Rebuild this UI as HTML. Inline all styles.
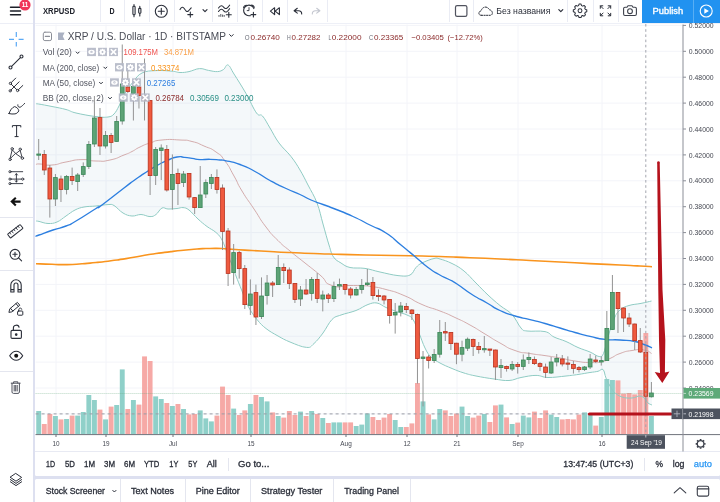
<!DOCTYPE html>
<html lang="en">
<head>
<meta charset="utf-8">
<title>XRPUSD chart</title>
<style>
*{box-sizing:border-box;margin:0;padding:0}
html,body{width:720px;height:502px;overflow:hidden}
body{background:#dde0f0;font-family:"Liberation Sans",sans-serif;color:#2a2e39;position:relative}
.panel{position:absolute;background:#fff}
.t{position:absolute;white-space:nowrap;line-height:1}
.tb{font-size:8.6px;color:#2a2e39;font-weight:bold;letter-spacing:.1px}
.sep{position:absolute;width:1px;background:#eaecf4;top:0;height:22px}
svg{position:absolute;left:0;top:0;overflow:visible}
.ax{font-family:"Liberation Sans",sans-serif;font-size:7.6px;fill:#454852}
.axw{font-family:"Liberation Sans",sans-serif;font-size:7.6px;fill:#fff}
.lg{font-size:8.2px;color:#50535e}
.val{font-size:8.2px}
.btns{position:absolute;height:8.6px}
.btns i{position:absolute;top:0;width:8.8px;height:8.6px;background:#b9bcc6;border:.8px solid #fff;opacity:.92}
.rng{font-size:8.8px;color:#2a2e39}
.tab{font-size:8.9px;color:#2a2e39;letter-spacing:.15px}
</style>
</head>
<body>
<!-- panels -->
<div class="panel" style="left:0;top:0;width:32.8px;height:502px"></div>
<div class="panel" style="left:35.2px;top:0;width:684.8px;height:476.2px;border-radius:0 0 1.5px 1.5px"></div>
<div class="panel" style="left:35.2px;top:478.5px;width:684.8px;height:23.5px;border-radius:1.5px 1.5px 0 0"></div>
<div style="position:absolute;left:0;top:22.8px;width:32.8px;height:1px;background:#eceef6"></div>
<div style="position:absolute;left:35.2px;top:22.9px;width:684.8px;height:1.1px;background:#eef0f7"></div>
<!-- thin dividers -->
<div style="position:absolute;left:35.2px;top:451.3px;width:684.8px;height:1px;background:#e8eaf3"></div>
<div style="position:absolute;left:0;top:216.5px;width:33px;height:1px;background:#e4e6ef"></div>
<div style="position:absolute;left:0;top:269.5px;width:33px;height:1px;background:#e4e6ef"></div>
<div style="position:absolute;left:0;top:371px;width:33px;height:1px;background:#e4e6ef"></div>

<!-- chart svg -->
<svg width="720" height="502" viewBox="0 0 720 502" style="will-change:transform">
<line x1="35.6" x2="683" y1="25.4" y2="25.4" stroke="#f3f4f9" stroke-width="1"/>
<line x1="35.6" x2="683" y1="51.3" y2="51.3" stroke="#f3f4f9" stroke-width="1"/>
<line x1="35.6" x2="683" y1="77.2" y2="77.2" stroke="#f3f4f9" stroke-width="1"/>
<line x1="35.6" x2="683" y1="103.1" y2="103.1" stroke="#f3f4f9" stroke-width="1"/>
<line x1="35.6" x2="683" y1="129.0" y2="129.0" stroke="#f3f4f9" stroke-width="1"/>
<line x1="35.6" x2="683" y1="154.9" y2="154.9" stroke="#f3f4f9" stroke-width="1"/>
<line x1="35.6" x2="683" y1="180.8" y2="180.8" stroke="#f3f4f9" stroke-width="1"/>
<line x1="35.6" x2="683" y1="206.7" y2="206.7" stroke="#f3f4f9" stroke-width="1"/>
<line x1="35.6" x2="683" y1="232.6" y2="232.6" stroke="#f3f4f9" stroke-width="1"/>
<line x1="35.6" x2="683" y1="258.5" y2="258.5" stroke="#f3f4f9" stroke-width="1"/>
<line x1="35.6" x2="683" y1="284.4" y2="284.4" stroke="#f3f4f9" stroke-width="1"/>
<line x1="35.6" x2="683" y1="310.3" y2="310.3" stroke="#f3f4f9" stroke-width="1"/>
<line x1="35.6" x2="683" y1="336.2" y2="336.2" stroke="#f3f4f9" stroke-width="1"/>
<line x1="35.6" x2="683" y1="362.1" y2="362.1" stroke="#f3f4f9" stroke-width="1"/>
<line x1="35.6" x2="683" y1="388.0" y2="388.0" stroke="#f3f4f9" stroke-width="1"/>
<line x1="35.6" x2="683" y1="413.9" y2="413.9" stroke="#f3f4f9" stroke-width="1"/>
<line x1="56" x2="56" y1="24.5" y2="434" stroke="#f3f4f9" stroke-width="1"/>
<line x1="106" x2="106" y1="24.5" y2="434" stroke="#f3f4f9" stroke-width="1"/>
<line x1="173" x2="173" y1="24.5" y2="434" stroke="#f3f4f9" stroke-width="1"/>
<line x1="251" x2="251" y1="24.5" y2="434" stroke="#f3f4f9" stroke-width="1"/>
<line x1="346" x2="346" y1="24.5" y2="434" stroke="#f3f4f9" stroke-width="1"/>
<line x1="407" x2="407" y1="24.5" y2="434" stroke="#f3f4f9" stroke-width="1"/>
<line x1="457" x2="457" y1="24.5" y2="434" stroke="#f3f4f9" stroke-width="1"/>
<line x1="518" x2="518" y1="24.5" y2="434" stroke="#f3f4f9" stroke-width="1"/>
<line x1="602" x2="602" y1="24.5" y2="434" stroke="#f3f4f9" stroke-width="1"/>
<polygon points="36.0,104.0 38.5,104.0 52.0,106.5 66.0,109.5 76.0,113.0 96.0,116.6 108.0,117.0 114.0,114.0 119.0,106.0 124.0,95.0 133.0,82.0 142.0,73.0 156.0,70.6 172.0,71.2 180.0,72.5 189.0,71.6 199.5,68.6 208.5,70.4 217.5,71.6 223.5,69.5 228.0,65.0 234.0,74.0 246.0,93.5 256.5,113.0 262.5,116.0 270.0,128.0 279.0,143.0 291.0,156.5 300.0,170.0 308.0,185.0 317.0,203.0 323.0,224.0 329.0,245.0 333.5,257.0 341.0,263.0 350.0,267.5 365.0,268.4 380.0,272.0 398.0,275.6 410.0,275.0 416.0,267.5 422.0,263.0 434.0,258.5 440.0,259.0 452.0,263.5 464.0,271.0 476.0,283.0 488.0,295.0 500.0,305.5 512.0,314.5 521.0,328.0 527.0,331.0 545.0,331.6 554.0,337.0 566.0,341.5 578.0,347.5 590.0,352.0 599.0,356.5 603.5,353.5 608.0,337.0 614.0,319.0 620.0,310.0 629.0,305.5 641.0,303.4 651.5,301.0 652.0,405.0 648.0,403.0 645.0,399.0 640.0,396.0 632.0,398.0 622.0,397.0 614.0,392.0 610.0,386.0 606.0,378.0 603.0,369.5 598.0,371.3 590.0,372.5 578.0,374.5 566.0,376.0 548.0,377.5 536.0,375.4 521.0,377.5 509.0,380.5 494.0,379.0 476.0,376.0 464.0,373.0 452.0,368.5 440.0,363.0 431.0,357.0 425.0,348.0 419.0,333.0 413.0,319.5 407.0,315.0 398.0,312.0 386.0,307.5 377.0,303.0 368.0,304.5 356.0,310.5 341.0,315.0 332.0,319.5 323.0,333.0 314.0,343.5 306.5,347.4 290.0,342.0 278.0,336.0 266.0,328.5 257.0,319.5 248.0,306.0 242.0,291.0 236.0,276.0 234.0,270.0 228.0,255.0 222.0,240.0 216.0,232.5 207.0,226.5 198.0,219.0 189.0,210.0 183.0,207.6 177.0,208.5 168.0,209.0 162.0,208.0 156.0,214.5 150.0,216.6 141.0,214.5 132.0,216.0 123.0,213.0 114.0,205.5 108.0,204.6 96.0,206.0 84.0,207.0 75.0,210.0 66.0,216.0 57.0,222.0 48.0,223.5 39.0,221.4 36.0,221.0" fill="#297e9b" fill-opacity="0.05"/>
<rect x="36.25" y="411.0" width="4.9" height="23.2" fill="#8fd0c9"/>
<rect x="41.82" y="424.0" width="4.9" height="10.2" fill="#f6a9a6"/>
<rect x="47.39" y="414.0" width="4.9" height="20.2" fill="#f6a9a6"/>
<rect x="52.96" y="416.0" width="4.9" height="18.2" fill="#8fd0c9"/>
<rect x="58.53" y="419.4" width="4.9" height="14.8" fill="#f6a9a6"/>
<rect x="64.10" y="419.0" width="4.9" height="15.2" fill="#8fd0c9"/>
<rect x="69.67" y="415.6" width="4.9" height="18.6" fill="#f6a9a6"/>
<rect x="75.24" y="415.6" width="4.9" height="18.6" fill="#8fd0c9"/>
<rect x="80.81" y="412.0" width="4.9" height="22.2" fill="#8fd0c9"/>
<rect x="86.38" y="395.0" width="4.9" height="39.2" fill="#8fd0c9"/>
<rect x="91.95" y="400.0" width="4.9" height="34.2" fill="#8fd0c9"/>
<rect x="97.52" y="409.6" width="4.9" height="24.6" fill="#f6a9a6"/>
<rect x="103.09" y="419.4" width="4.9" height="14.8" fill="#8fd0c9"/>
<rect x="108.66" y="406.6" width="4.9" height="27.6" fill="#f6a9a6"/>
<rect x="114.23" y="405.0" width="4.9" height="29.2" fill="#8fd0c9"/>
<rect x="119.80" y="369.4" width="4.9" height="64.8" fill="#8fd0c9"/>
<rect x="125.37" y="409.0" width="4.9" height="25.2" fill="#f6a9a6"/>
<rect x="130.94" y="400.0" width="4.9" height="34.2" fill="#8fd0c9"/>
<rect x="136.51" y="404.6" width="4.9" height="29.6" fill="#f6a9a6"/>
<rect x="142.08" y="356.4" width="4.9" height="77.8" fill="#f6a9a6"/>
<rect x="147.65" y="361.0" width="4.9" height="73.2" fill="#f6a9a6"/>
<rect x="153.22" y="396.4" width="4.9" height="37.8" fill="#8fd0c9"/>
<rect x="158.79" y="399.0" width="4.9" height="35.2" fill="#8fd0c9"/>
<rect x="164.36" y="403.0" width="4.9" height="31.2" fill="#f6a9a6"/>
<rect x="169.93" y="406.0" width="4.9" height="28.2" fill="#8fd0c9"/>
<rect x="175.50" y="404.0" width="4.9" height="30.2" fill="#f6a9a6"/>
<rect x="181.07" y="409.0" width="4.9" height="25.2" fill="#8fd0c9"/>
<rect x="186.64" y="414.4" width="4.9" height="19.8" fill="#f6a9a6"/>
<rect x="192.21" y="414.0" width="4.9" height="20.2" fill="#f6a9a6"/>
<rect x="197.78" y="410.4" width="4.9" height="23.8" fill="#8fd0c9"/>
<rect x="203.35" y="418.4" width="4.9" height="15.8" fill="#8fd0c9"/>
<rect x="208.92" y="421.4" width="4.9" height="12.8" fill="#8fd0c9"/>
<rect x="214.49" y="415.6" width="4.9" height="18.6" fill="#f6a9a6"/>
<rect x="220.06" y="386.6" width="4.9" height="47.6" fill="#f6a9a6"/>
<rect x="225.63" y="395.0" width="4.9" height="39.2" fill="#f6a9a6"/>
<rect x="231.20" y="408.6" width="4.9" height="25.6" fill="#8fd0c9"/>
<rect x="236.77" y="415.0" width="4.9" height="19.2" fill="#f6a9a6"/>
<rect x="242.34" y="410.4" width="4.9" height="23.8" fill="#f6a9a6"/>
<rect x="247.91" y="404.0" width="4.9" height="30.2" fill="#8fd0c9"/>
<rect x="253.48" y="395.0" width="4.9" height="39.2" fill="#f6a9a6"/>
<rect x="259.05" y="397.0" width="4.9" height="37.2" fill="#8fd0c9"/>
<rect x="264.62" y="401.4" width="4.9" height="32.8" fill="#8fd0c9"/>
<rect x="270.19" y="412.4" width="4.9" height="21.8" fill="#f6a9a6"/>
<rect x="275.76" y="416.0" width="4.9" height="18.2" fill="#8fd0c9"/>
<rect x="281.33" y="417.6" width="4.9" height="16.6" fill="#f6a9a6"/>
<rect x="286.90" y="411.0" width="4.9" height="23.2" fill="#f6a9a6"/>
<rect x="292.47" y="415.0" width="4.9" height="19.2" fill="#f6a9a6"/>
<rect x="298.04" y="411.6" width="4.9" height="22.6" fill="#8fd0c9"/>
<rect x="303.61" y="416.0" width="4.9" height="18.2" fill="#f6a9a6"/>
<rect x="309.18" y="411.0" width="4.9" height="23.2" fill="#8fd0c9"/>
<rect x="314.75" y="414.0" width="4.9" height="20.2" fill="#f6a9a6"/>
<rect x="320.32" y="418.0" width="4.9" height="16.2" fill="#8fd0c9"/>
<rect x="325.89" y="423.0" width="4.9" height="11.2" fill="#f6a9a6"/>
<rect x="331.46" y="422.4" width="4.9" height="11.8" fill="#8fd0c9"/>
<rect x="337.03" y="422.4" width="4.9" height="11.8" fill="#8fd0c9"/>
<rect x="342.60" y="422.4" width="4.9" height="11.8" fill="#f6a9a6"/>
<rect x="348.17" y="422.4" width="4.9" height="11.8" fill="#f6a9a6"/>
<rect x="353.74" y="426.0" width="4.9" height="8.2" fill="#8fd0c9"/>
<rect x="359.31" y="424.6" width="4.9" height="9.6" fill="#8fd0c9"/>
<rect x="364.88" y="413.4" width="4.9" height="20.8" fill="#8fd0c9"/>
<rect x="370.45" y="417.0" width="4.9" height="17.2" fill="#f6a9a6"/>
<rect x="376.02" y="420.0" width="4.9" height="14.2" fill="#f6a9a6"/>
<rect x="381.59" y="417.6" width="4.9" height="16.6" fill="#f6a9a6"/>
<rect x="387.16" y="414.0" width="4.9" height="20.2" fill="#f6a9a6"/>
<rect x="392.73" y="420.0" width="4.9" height="14.2" fill="#8fd0c9"/>
<rect x="398.30" y="427.0" width="4.9" height="7.2" fill="#8fd0c9"/>
<rect x="403.87" y="427.0" width="4.9" height="7.2" fill="#f6a9a6"/>
<rect x="409.44" y="423.4" width="4.9" height="10.8" fill="#f6a9a6"/>
<rect x="415.01" y="383.0" width="4.9" height="51.2" fill="#f6a9a6"/>
<rect x="420.58" y="401.4" width="4.9" height="32.8" fill="#8fd0c9"/>
<rect x="426.15" y="414.4" width="4.9" height="19.8" fill="#f6a9a6"/>
<rect x="431.72" y="419.4" width="4.9" height="14.8" fill="#8fd0c9"/>
<rect x="437.29" y="409.0" width="4.9" height="25.2" fill="#8fd0c9"/>
<rect x="442.86" y="410.4" width="4.9" height="23.8" fill="#f6a9a6"/>
<rect x="448.43" y="416.0" width="4.9" height="18.2" fill="#f6a9a6"/>
<rect x="454.00" y="413.6" width="4.9" height="20.6" fill="#f6a9a6"/>
<rect x="459.57" y="406.6" width="4.9" height="27.6" fill="#8fd0c9"/>
<rect x="465.14" y="416.0" width="4.9" height="18.2" fill="#8fd0c9"/>
<rect x="470.71" y="417.6" width="4.9" height="16.6" fill="#f6a9a6"/>
<rect x="476.28" y="415.6" width="4.9" height="18.6" fill="#f6a9a6"/>
<rect x="481.85" y="414.0" width="4.9" height="20.2" fill="#8fd0c9"/>
<rect x="487.42" y="422.0" width="4.9" height="12.2" fill="#f6a9a6"/>
<rect x="492.99" y="405.4" width="4.9" height="28.8" fill="#f6a9a6"/>
<rect x="498.56" y="404.6" width="4.9" height="29.6" fill="#8fd0c9"/>
<rect x="504.13" y="417.4" width="4.9" height="16.8" fill="#f6a9a6"/>
<rect x="509.70" y="424.0" width="4.9" height="10.2" fill="#8fd0c9"/>
<rect x="515.27" y="422.6" width="4.9" height="11.6" fill="#f6a9a6"/>
<rect x="520.84" y="415.6" width="4.9" height="18.6" fill="#8fd0c9"/>
<rect x="526.41" y="417.4" width="4.9" height="16.8" fill="#8fd0c9"/>
<rect x="531.98" y="411.6" width="4.9" height="22.6" fill="#f6a9a6"/>
<rect x="537.55" y="418.0" width="4.9" height="16.2" fill="#f6a9a6"/>
<rect x="543.12" y="410.4" width="4.9" height="23.8" fill="#f6a9a6"/>
<rect x="548.69" y="414.6" width="4.9" height="19.6" fill="#8fd0c9"/>
<rect x="554.26" y="417.0" width="4.9" height="17.2" fill="#8fd0c9"/>
<rect x="559.83" y="419.4" width="4.9" height="14.8" fill="#f6a9a6"/>
<rect x="565.40" y="419.0" width="4.9" height="15.2" fill="#f6a9a6"/>
<rect x="570.97" y="419.4" width="4.9" height="14.8" fill="#f6a9a6"/>
<rect x="576.54" y="414.6" width="4.9" height="19.6" fill="#f6a9a6"/>
<rect x="582.11" y="412.4" width="4.9" height="21.8" fill="#8fd0c9"/>
<rect x="587.68" y="413.6" width="4.9" height="20.6" fill="#8fd0c9"/>
<rect x="593.25" y="425.6" width="4.9" height="8.6" fill="#f6a9a6"/>
<rect x="598.82" y="417.0" width="4.9" height="17.2" fill="#8fd0c9"/>
<rect x="604.39" y="379.0" width="4.9" height="55.2" fill="#8fd0c9"/>
<rect x="609.96" y="380.0" width="4.9" height="54.2" fill="#8fd0c9"/>
<rect x="615.53" y="380.4" width="4.9" height="53.8" fill="#f6a9a6"/>
<rect x="621.10" y="393.6" width="4.9" height="40.6" fill="#f6a9a6"/>
<rect x="626.67" y="393.0" width="4.9" height="41.2" fill="#f6a9a6"/>
<rect x="632.24" y="394.4" width="4.9" height="39.8" fill="#f6a9a6"/>
<rect x="637.81" y="390.0" width="4.9" height="44.2" fill="#f6a9a6"/>
<rect x="643.38" y="333.0" width="4.9" height="101.2" fill="#f6a9a6"/>
<rect x="648.95" y="416.0" width="4.9" height="18.2" fill="#8fd0c9"/>
<line x1="35.6" x2="683" y1="393.5" y2="393.5" stroke="#5da376" stroke-opacity="0.55" stroke-width="0.8" stroke-dasharray="1 1"/>
<line x1="35.6" x2="683" y1="413.9" y2="413.9" stroke="#9a9da6" stroke-width="1" stroke-dasharray="3 3"/>
<path d="M36.0 104.0C36.5 104.0 35.3 103.5 38.5 104.0C41.7 104.5 46.5 105.4 52.0 106.5C57.5 107.6 61.2 108.2 66.0 109.5C70.8 110.8 70.0 111.6 76.0 113.0C82.0 114.4 89.6 115.8 96.0 116.6C102.4 117.4 104.4 117.5 108.0 117.0C111.6 116.5 111.8 116.2 114.0 114.0C116.2 111.8 117.0 109.8 119.0 106.0C121.0 102.2 121.2 99.8 124.0 95.0C126.8 90.2 129.4 86.4 133.0 82.0C136.6 77.6 137.4 75.3 142.0 73.0C146.6 70.7 150.0 71.0 156.0 70.6C162.0 70.2 167.2 70.8 172.0 71.2C176.8 71.6 176.6 72.4 180.0 72.5C183.4 72.6 185.1 72.4 189.0 71.6C192.9 70.8 195.6 68.8 199.5 68.6C203.4 68.4 204.9 69.8 208.5 70.4C212.1 71.0 214.5 71.8 217.5 71.6C220.5 71.4 221.4 70.8 223.5 69.5C225.6 68.2 225.9 64.1 228.0 65.0C230.1 65.9 230.4 68.3 234.0 74.0C237.6 79.7 241.5 85.7 246.0 93.5C250.5 101.3 253.2 108.5 256.5 113.0C259.8 117.5 259.8 113.0 262.5 116.0C265.2 119.0 266.7 122.6 270.0 128.0C273.3 133.4 274.8 137.3 279.0 143.0C283.2 148.7 286.8 151.1 291.0 156.5C295.2 161.9 296.6 164.3 300.0 170.0C303.4 175.7 304.6 178.4 308.0 185.0C311.4 191.6 314.0 195.2 317.0 203.0C320.0 210.8 320.6 215.6 323.0 224.0C325.4 232.4 326.9 238.4 329.0 245.0C331.1 251.6 331.1 253.4 333.5 257.0C335.9 260.6 337.7 260.9 341.0 263.0C344.3 265.1 345.2 266.4 350.0 267.5C354.8 268.6 359.0 267.5 365.0 268.4C371.0 269.3 373.4 270.6 380.0 272.0C386.6 273.4 392.0 275.0 398.0 275.6C404.0 276.2 406.4 276.6 410.0 275.0C413.6 273.4 413.6 269.9 416.0 267.5C418.4 265.1 418.4 264.8 422.0 263.0C425.6 261.2 430.4 259.3 434.0 258.5C437.6 257.7 436.4 258.0 440.0 259.0C443.6 260.0 447.2 261.1 452.0 263.5C456.8 265.9 459.2 267.1 464.0 271.0C468.8 274.9 471.2 278.2 476.0 283.0C480.8 287.8 483.2 290.5 488.0 295.0C492.8 299.5 495.2 301.6 500.0 305.5C504.8 309.4 507.8 310.0 512.0 314.5C516.2 319.0 518.0 324.7 521.0 328.0C524.0 331.3 522.2 330.3 527.0 331.0C531.8 331.7 539.6 330.4 545.0 331.6C550.4 332.8 549.8 335.0 554.0 337.0C558.2 339.0 561.2 339.4 566.0 341.5C570.8 343.6 573.2 345.4 578.0 347.5C582.8 349.6 585.8 350.2 590.0 352.0C594.2 353.8 596.3 356.2 599.0 356.5C601.7 356.8 601.7 357.4 603.5 353.5C605.3 349.6 605.9 343.9 608.0 337.0C610.1 330.1 611.6 324.4 614.0 319.0C616.4 313.6 617.0 312.7 620.0 310.0C623.0 307.3 624.8 306.8 629.0 305.5C633.2 304.2 636.5 304.3 641.0 303.4C645.5 302.5 649.4 301.5 651.5 301.0" fill="none" stroke="#8fcbc3" stroke-width="1"/>
<path d="M36.0 221.0C36.6 221.1 36.6 220.9 39.0 221.4C41.4 221.9 44.4 223.4 48.0 223.5C51.6 223.6 53.4 223.5 57.0 222.0C60.6 220.5 62.4 218.4 66.0 216.0C69.6 213.6 71.4 211.8 75.0 210.0C78.6 208.2 79.8 207.8 84.0 207.0C88.2 206.2 91.2 206.5 96.0 206.0C100.8 205.5 104.4 204.7 108.0 204.6C111.6 204.5 111.0 203.8 114.0 205.5C117.0 207.2 119.4 210.9 123.0 213.0C126.6 215.1 128.4 215.7 132.0 216.0C135.6 216.3 137.4 214.4 141.0 214.5C144.6 214.6 147.0 216.6 150.0 216.6C153.0 216.6 153.6 216.2 156.0 214.5C158.4 212.8 159.6 209.1 162.0 208.0C164.4 206.9 165.0 208.9 168.0 209.0C171.0 209.1 174.0 208.8 177.0 208.5C180.0 208.2 180.6 207.3 183.0 207.6C185.4 207.9 186.0 207.7 189.0 210.0C192.0 212.3 194.4 215.7 198.0 219.0C201.6 222.3 203.4 223.8 207.0 226.5C210.6 229.2 213.0 229.8 216.0 232.5C219.0 235.2 219.6 235.5 222.0 240.0C224.4 244.5 225.6 249.0 228.0 255.0C230.4 261.0 232.4 265.8 234.0 270.0C235.6 274.2 234.4 271.8 236.0 276.0C237.6 280.2 239.6 285.0 242.0 291.0C244.4 297.0 245.0 300.3 248.0 306.0C251.0 311.7 253.4 315.0 257.0 319.5C260.6 324.0 261.8 325.2 266.0 328.5C270.2 331.8 273.2 333.3 278.0 336.0C282.8 338.7 284.3 339.7 290.0 342.0C295.7 344.3 301.7 347.1 306.5 347.4C311.3 347.7 310.7 346.4 314.0 343.5C317.3 340.6 319.4 337.8 323.0 333.0C326.6 328.2 328.4 323.1 332.0 319.5C335.6 315.9 336.2 316.8 341.0 315.0C345.8 313.2 350.6 312.6 356.0 310.5C361.4 308.4 363.8 306.0 368.0 304.5C372.2 303.0 373.4 302.4 377.0 303.0C380.6 303.6 381.8 305.7 386.0 307.5C390.2 309.3 393.8 310.5 398.0 312.0C402.2 313.5 404.0 313.5 407.0 315.0C410.0 316.5 410.6 315.9 413.0 319.5C415.4 323.1 416.6 327.3 419.0 333.0C421.4 338.7 422.6 343.2 425.0 348.0C427.4 352.8 428.0 354.0 431.0 357.0C434.0 360.0 435.8 360.7 440.0 363.0C444.2 365.3 447.2 366.5 452.0 368.5C456.8 370.5 459.2 371.5 464.0 373.0C468.8 374.5 470.0 374.8 476.0 376.0C482.0 377.2 487.4 378.1 494.0 379.0C500.6 379.9 503.6 380.8 509.0 380.5C514.4 380.2 515.6 378.5 521.0 377.5C526.4 376.5 530.6 375.4 536.0 375.4C541.4 375.4 542.0 377.4 548.0 377.5C554.0 377.6 560.0 376.6 566.0 376.0C572.0 375.4 573.2 375.2 578.0 374.5C582.8 373.8 586.0 373.1 590.0 372.5C594.0 371.9 595.4 371.9 598.0 371.3C600.6 370.7 601.4 368.2 603.0 369.5C604.6 370.8 604.6 374.7 606.0 378.0C607.4 381.3 608.4 383.2 610.0 386.0C611.6 388.8 611.6 389.8 614.0 392.0C616.4 394.2 618.4 395.8 622.0 397.0C625.6 398.2 628.4 398.2 632.0 398.0C635.6 397.8 637.4 395.8 640.0 396.0C642.6 396.2 643.4 397.6 645.0 399.0C646.6 400.4 646.6 401.8 648.0 403.0C649.4 404.2 651.2 404.6 652.0 405.0" fill="none" stroke="#8fcbc3" stroke-width="1"/>
<path d="M36.0 164.5C37.3 164.3 34.7 163.8 40.0 164.0C45.3 164.2 43.3 165.7 52.0 165.0C60.7 164.3 56.0 163.8 66.0 162.0C76.0 160.2 72.0 159.9 82.0 159.6C92.0 159.3 86.7 160.9 96.0 161.0C105.3 161.1 100.7 162.0 110.0 160.0C119.3 158.0 116.7 157.8 124.0 155.0C131.3 152.2 126.7 154.2 132.0 151.5C137.3 148.8 134.0 149.8 140.0 147.0C146.0 144.2 142.7 145.3 150.0 143.0C157.3 140.7 152.0 141.0 162.0 140.0C172.0 139.0 170.0 139.5 180.0 140.0C190.0 140.5 184.0 139.5 192.0 141.5C200.0 143.5 196.0 142.5 204.0 146.0C212.0 149.5 209.0 147.0 216.0 152.0C223.0 157.0 219.0 153.0 225.0 161.0C231.0 169.0 228.3 166.0 234.0 176.0C239.7 186.0 235.3 180.0 242.0 191.0C248.7 202.0 246.0 197.0 254.0 209.0C262.0 221.0 258.0 216.5 266.0 227.0C274.0 237.5 270.0 232.5 278.0 240.5C286.0 248.5 281.0 243.5 290.0 251.0C299.0 258.5 295.0 255.0 305.0 263.0C315.0 271.0 311.0 267.5 320.0 275.0C329.0 282.5 322.0 282.0 332.0 285.5C342.0 289.0 339.0 285.4 350.0 285.5C361.0 285.6 358.0 285.5 365.0 285.8C372.0 286.1 364.0 285.3 371.0 286.5C378.0 287.7 375.0 286.5 386.0 289.5C397.0 292.5 392.0 290.5 404.0 295.5C416.0 300.5 410.0 299.3 422.0 304.5C434.0 309.7 429.0 306.7 440.0 311.0C451.0 315.3 445.0 312.8 455.0 317.5C465.0 322.2 460.0 319.5 470.0 325.0C480.0 330.5 475.0 328.0 485.0 334.0C495.0 340.0 490.0 337.5 500.0 343.0C510.0 348.5 505.0 347.0 515.0 350.5C525.0 354.0 520.0 351.8 530.0 353.5C540.0 355.2 535.0 354.1 545.0 355.6C555.0 357.1 550.0 356.2 560.0 358.0C570.0 359.8 565.0 359.5 575.0 361.0C585.0 362.5 581.0 362.3 590.0 362.5C599.0 362.7 595.0 363.1 602.0 361.6C609.0 360.1 605.0 360.7 611.0 358.0C617.0 355.3 613.0 356.0 620.0 353.5C627.0 351.0 624.0 351.7 632.0 350.5C640.0 349.3 637.5 349.0 644.0 350.0C650.5 351.0 649.0 352.3 651.5 353.5" fill="none" stroke="#cfa3a3" stroke-width="0.9"/>
<path d="M36.0 263.7C41.3 263.9 42.0 264.0 52.0 264.3C62.0 264.6 56.0 264.8 66.0 264.6C76.0 264.4 72.0 264.5 82.0 263.8C92.0 263.1 86.3 263.5 96.0 262.5C105.7 261.5 101.0 262.0 111.0 260.7C121.0 259.4 116.0 260.2 126.0 258.6C136.0 257.0 131.0 257.7 141.0 256.0C151.0 254.3 146.0 255.0 156.0 253.5C166.0 252.0 161.0 252.8 171.0 251.6C181.0 250.4 176.7 250.9 186.0 250.0C195.3 249.1 191.0 249.4 199.0 248.9C207.0 248.4 202.3 248.6 210.0 248.5C217.7 248.4 214.7 248.2 222.0 248.5C229.3 248.8 222.0 248.6 232.0 249.3C242.0 250.0 239.3 249.8 252.0 250.5C264.7 251.2 257.3 250.8 270.0 251.5C282.7 252.2 273.3 251.8 290.0 252.5C306.7 253.2 300.0 253.0 320.0 253.7C340.0 254.4 330.0 254.1 350.0 254.6C370.0 255.1 360.0 254.9 380.0 255.3C400.0 255.7 390.0 255.4 410.0 255.8C430.0 256.2 420.0 255.9 440.0 256.5C460.0 257.1 450.0 256.9 470.0 257.7C490.0 258.5 480.0 258.1 500.0 259.0C520.0 259.9 510.0 259.5 530.0 260.5C550.0 261.5 540.0 261.0 560.0 262.0C580.0 263.0 570.0 262.6 590.0 263.6C610.0 264.6 603.3 264.2 620.0 265.0C636.7 265.8 629.3 265.4 640.0 266.0C650.7 266.6 648.0 266.5 652.0 266.7" fill="none" stroke="#f9941e" stroke-width="1.6" stroke-linejoin="round"/>
<path d="M36.0 236.0C37.0 235.7 33.3 237.0 39.0 235.0C44.7 233.0 44.0 233.0 53.0 230.0C62.0 227.0 58.3 229.0 66.0 226.0C73.7 223.0 66.0 226.8 76.0 221.0C86.0 215.2 87.3 213.8 96.0 208.5C104.7 203.2 92.7 211.8 102.0 205.0C111.3 198.2 112.7 196.7 124.0 188.0C135.3 179.3 128.0 184.7 136.0 179.0C144.0 173.3 140.7 175.7 148.0 171.0C155.3 166.3 151.7 168.5 158.0 165.0C164.3 161.5 160.7 163.2 167.0 160.5C173.3 157.8 171.3 158.1 177.0 157.0C182.7 155.9 179.0 156.9 184.0 157.3C189.0 157.7 186.7 157.5 192.0 158.3C197.3 159.1 194.0 159.3 200.0 159.6C206.0 159.9 203.3 159.2 210.0 159.3C216.7 159.4 215.0 159.6 220.0 160.0C225.0 160.4 218.3 159.1 225.0 160.6C231.7 162.1 230.0 160.9 240.0 164.5C250.0 168.1 245.0 166.2 255.0 171.5C265.0 176.8 260.0 175.0 270.0 180.5C280.0 186.0 275.0 183.3 285.0 188.0C295.0 192.7 291.3 190.5 300.0 194.5C308.7 198.5 303.3 196.7 311.0 200.0C318.7 203.3 315.0 201.5 323.0 204.5C331.0 207.5 325.0 205.0 335.0 209.0C345.0 213.0 341.0 211.0 353.0 216.5C365.0 222.0 360.0 220.0 371.0 225.5C382.0 231.0 376.0 226.5 386.0 233.0C396.0 239.5 391.2 237.0 401.0 245.0C410.8 253.0 406.5 249.5 415.5 257.0C424.5 264.5 420.2 261.7 428.0 267.5C435.8 273.3 432.3 270.7 439.0 274.5C445.7 278.3 442.0 275.8 448.0 279.0C454.0 282.2 449.0 278.8 457.0 284.0C465.0 289.2 462.0 288.2 472.0 294.5C482.0 300.8 477.7 297.7 487.0 303.0C496.3 308.3 490.7 306.2 500.0 310.5C509.3 314.8 505.0 313.0 515.0 316.0C525.0 319.0 520.0 317.1 530.0 319.6C540.0 322.1 535.0 320.7 545.0 323.5C555.0 326.3 550.0 325.0 560.0 328.0C570.0 331.0 565.0 329.7 575.0 332.5C585.0 335.3 580.0 334.1 590.0 336.4C600.0 338.7 595.0 338.2 605.0 339.4C615.0 340.6 610.0 339.3 620.0 340.0C630.0 340.7 627.0 340.0 635.0 341.5C643.0 343.0 638.3 342.4 644.0 344.5C649.7 346.6 649.3 346.7 652.0 347.8" fill="none" stroke="#2d7fe0" stroke-width="1.35" stroke-linejoin="round"/>
<line x1="38.70" x2="38.70" y1="139.0" y2="160.0" stroke="#939393" stroke-width="1"/>
<rect x="36.80" y="154.0" width="3.8" height="1.2" fill="#5da376" stroke="#3a8758" stroke-width="0.8"/>
<line x1="44.27" x2="44.27" y1="150.0" y2="175.0" stroke="#939393" stroke-width="1"/>
<rect x="42.37" y="154.4" width="3.8" height="15.6" fill="#ef5a3f" stroke="#b8321f" stroke-width="0.8"/>
<line x1="49.84" x2="49.84" y1="165.0" y2="217.6" stroke="#939393" stroke-width="1"/>
<rect x="47.94" y="168.0" width="3.8" height="31.0" fill="#ef5a3f" stroke="#b8321f" stroke-width="0.8"/>
<line x1="55.41" x2="55.41" y1="174.0" y2="206.0" stroke="#939393" stroke-width="1"/>
<rect x="53.51" y="177.6" width="3.8" height="21.4" fill="#5da376" stroke="#3a8758" stroke-width="0.8"/>
<line x1="60.98" x2="60.98" y1="175.6" y2="202.0" stroke="#939393" stroke-width="1"/>
<rect x="59.08" y="179.0" width="3.8" height="10.4" fill="#ef5a3f" stroke="#b8321f" stroke-width="0.8"/>
<line x1="66.55" x2="66.55" y1="175.0" y2="194.4" stroke="#939393" stroke-width="1"/>
<rect x="64.65" y="176.4" width="3.8" height="13.0" fill="#5da376" stroke="#3a8758" stroke-width="0.8"/>
<line x1="72.12" x2="72.12" y1="167.6" y2="185.0" stroke="#939393" stroke-width="1"/>
<rect x="70.22" y="176.4" width="3.8" height="4.0" fill="#ef5a3f" stroke="#b8321f" stroke-width="0.8"/>
<line x1="77.69" x2="77.69" y1="173.0" y2="191.0" stroke="#939393" stroke-width="1"/>
<rect x="75.79" y="175.0" width="3.8" height="6.6" fill="#5da376" stroke="#3a8758" stroke-width="0.8"/>
<line x1="83.26" x2="83.26" y1="162.4" y2="177.0" stroke="#939393" stroke-width="1"/>
<rect x="81.36" y="166.6" width="3.8" height="7.8" fill="#5da376" stroke="#3a8758" stroke-width="0.8"/>
<line x1="88.83" x2="88.83" y1="141.0" y2="169.0" stroke="#939393" stroke-width="1"/>
<rect x="86.93" y="144.4" width="3.8" height="22.0" fill="#5da376" stroke="#3a8758" stroke-width="0.8"/>
<line x1="94.40" x2="94.40" y1="96.0" y2="147.0" stroke="#939393" stroke-width="1"/>
<rect x="92.50" y="118.0" width="3.8" height="26.0" fill="#5da376" stroke="#3a8758" stroke-width="0.8"/>
<line x1="99.97" x2="99.97" y1="108.0" y2="155.0" stroke="#939393" stroke-width="1"/>
<rect x="98.07" y="117.6" width="3.8" height="28.4" fill="#ef5a3f" stroke="#b8321f" stroke-width="0.8"/>
<line x1="105.54" x2="105.54" y1="131.0" y2="148.5" stroke="#939393" stroke-width="1"/>
<rect x="103.64" y="135.4" width="3.8" height="10.6" fill="#5da376" stroke="#3a8758" stroke-width="0.8"/>
<line x1="111.11" x2="111.11" y1="133.0" y2="153.0" stroke="#939393" stroke-width="1"/>
<rect x="109.21" y="135.4" width="3.8" height="7.0" fill="#ef5a3f" stroke="#b8321f" stroke-width="0.8"/>
<line x1="116.68" x2="116.68" y1="116.0" y2="142.0" stroke="#939393" stroke-width="1"/>
<rect x="114.78" y="121.4" width="3.8" height="20.0" fill="#5da376" stroke="#3a8758" stroke-width="0.8"/>
<line x1="122.25" x2="122.25" y1="44.5" y2="124.6" stroke="#939393" stroke-width="1"/>
<rect x="120.35" y="84.0" width="3.8" height="37.0" fill="#5da376" stroke="#3a8758" stroke-width="0.8"/>
<line x1="127.82" x2="127.82" y1="69.5" y2="93.0" stroke="#939393" stroke-width="1"/>
<rect x="125.92" y="87.0" width="3.8" height="4.5" fill="#ef5a3f" stroke="#b8321f" stroke-width="0.8"/>
<line x1="133.39" x2="133.39" y1="86.0" y2="120.5" stroke="#939393" stroke-width="1"/>
<rect x="131.49" y="86.5" width="3.8" height="7.0" fill="#5da376" stroke="#3a8758" stroke-width="0.8"/>
<line x1="138.96" x2="138.96" y1="86.0" y2="108.5" stroke="#939393" stroke-width="1"/>
<rect x="137.06" y="87.0" width="3.8" height="8.5" fill="#ef5a3f" stroke="#b8321f" stroke-width="0.8"/>
<line x1="144.53" x2="144.53" y1="58.5" y2="120.5" stroke="#939393" stroke-width="1"/>
<rect x="142.63" y="95.5" width="3.8" height="5.0" fill="#ef5a3f" stroke="#b8321f" stroke-width="0.8"/>
<line x1="150.10" x2="150.10" y1="100.0" y2="195.0" stroke="#939393" stroke-width="1"/>
<rect x="148.20" y="100.5" width="3.8" height="75.1" fill="#ef5a3f" stroke="#b8321f" stroke-width="0.8"/>
<line x1="155.67" x2="155.67" y1="147.0" y2="185.0" stroke="#939393" stroke-width="1"/>
<rect x="153.77" y="149.4" width="3.8" height="26.2" fill="#5da376" stroke="#3a8758" stroke-width="0.8"/>
<line x1="161.24" x2="161.24" y1="144.4" y2="180.0" stroke="#939393" stroke-width="1"/>
<rect x="159.34" y="148.0" width="3.8" height="2.4" fill="#5da376" stroke="#3a8758" stroke-width="0.8"/>
<line x1="166.81" x2="166.81" y1="145.0" y2="191.6" stroke="#939393" stroke-width="1"/>
<rect x="164.91" y="149.4" width="3.8" height="40.6" fill="#ef5a3f" stroke="#b8321f" stroke-width="0.8"/>
<line x1="172.38" x2="172.38" y1="154.4" y2="209.6" stroke="#939393" stroke-width="1"/>
<rect x="170.48" y="174.4" width="3.8" height="15.2" fill="#5da376" stroke="#3a8758" stroke-width="0.8"/>
<line x1="177.95" x2="177.95" y1="168.6" y2="205.0" stroke="#939393" stroke-width="1"/>
<rect x="176.05" y="173.4" width="3.8" height="10.2" fill="#ef5a3f" stroke="#b8321f" stroke-width="0.8"/>
<line x1="183.52" x2="183.52" y1="171.0" y2="187.0" stroke="#939393" stroke-width="1"/>
<rect x="181.62" y="174.0" width="3.8" height="8.6" fill="#5da376" stroke="#3a8758" stroke-width="0.8"/>
<line x1="189.09" x2="189.09" y1="173.0" y2="199.6" stroke="#939393" stroke-width="1"/>
<rect x="187.19" y="173.4" width="3.8" height="23.6" fill="#ef5a3f" stroke="#b8321f" stroke-width="0.8"/>
<line x1="194.66" x2="194.66" y1="197.0" y2="214.0" stroke="#939393" stroke-width="1"/>
<rect x="192.76" y="197.6" width="3.8" height="10.0" fill="#ef5a3f" stroke="#b8321f" stroke-width="0.8"/>
<line x1="200.23" x2="200.23" y1="166.0" y2="207.6" stroke="#939393" stroke-width="1"/>
<rect x="198.33" y="195.0" width="3.8" height="12.6" fill="#5da376" stroke="#3a8758" stroke-width="0.8"/>
<line x1="205.80" x2="205.80" y1="179.4" y2="198.0" stroke="#939393" stroke-width="1"/>
<rect x="203.90" y="182.6" width="3.8" height="11.4" fill="#5da376" stroke="#3a8758" stroke-width="0.8"/>
<line x1="211.37" x2="211.37" y1="174.0" y2="189.0" stroke="#939393" stroke-width="1"/>
<rect x="209.47" y="177.4" width="3.8" height="6.2" fill="#5da376" stroke="#3a8758" stroke-width="0.8"/>
<line x1="216.94" x2="216.94" y1="169.4" y2="193.6" stroke="#939393" stroke-width="1"/>
<rect x="215.04" y="177.4" width="3.8" height="12.2" fill="#ef5a3f" stroke="#b8321f" stroke-width="0.8"/>
<line x1="222.51" x2="222.51" y1="184.4" y2="250.0" stroke="#939393" stroke-width="1"/>
<rect x="220.61" y="188.0" width="3.8" height="43.5" fill="#ef5a3f" stroke="#b8321f" stroke-width="0.8"/>
<line x1="228.08" x2="228.08" y1="228.0" y2="286.0" stroke="#939393" stroke-width="1"/>
<rect x="226.18" y="231.0" width="3.8" height="42.4" fill="#ef5a3f" stroke="#b8321f" stroke-width="0.8"/>
<line x1="233.65" x2="233.65" y1="244.0" y2="284.6" stroke="#939393" stroke-width="1"/>
<rect x="231.75" y="252.6" width="3.8" height="20.0" fill="#5da376" stroke="#3a8758" stroke-width="0.8"/>
<line x1="239.22" x2="239.22" y1="251.0" y2="278.6" stroke="#939393" stroke-width="1"/>
<rect x="237.32" y="252.6" width="3.8" height="16.0" fill="#ef5a3f" stroke="#b8321f" stroke-width="0.8"/>
<line x1="244.79" x2="244.79" y1="265.0" y2="309.0" stroke="#939393" stroke-width="1"/>
<rect x="242.89" y="268.6" width="3.8" height="36.0" fill="#ef5a3f" stroke="#b8321f" stroke-width="0.8"/>
<line x1="250.36" x2="250.36" y1="279.4" y2="315.0" stroke="#939393" stroke-width="1"/>
<rect x="248.46" y="294.0" width="3.8" height="11.4" fill="#5da376" stroke="#3a8758" stroke-width="0.8"/>
<line x1="255.93" x2="255.93" y1="284.6" y2="325.0" stroke="#939393" stroke-width="1"/>
<rect x="254.03" y="292.6" width="3.8" height="24.4" fill="#ef5a3f" stroke="#b8321f" stroke-width="0.8"/>
<line x1="261.50" x2="261.50" y1="277.4" y2="319.0" stroke="#939393" stroke-width="1"/>
<rect x="259.60" y="296.0" width="3.8" height="20.6" fill="#5da376" stroke="#3a8758" stroke-width="0.8"/>
<line x1="267.07" x2="267.07" y1="275.0" y2="304.6" stroke="#939393" stroke-width="1"/>
<rect x="265.17" y="283.0" width="3.8" height="12.4" fill="#5da376" stroke="#3a8758" stroke-width="0.8"/>
<line x1="272.64" x2="272.64" y1="281.0" y2="297.0" stroke="#939393" stroke-width="1"/>
<rect x="270.74" y="283.0" width="3.8" height="2.0" fill="#ef5a3f" stroke="#b8321f" stroke-width="0.8"/>
<line x1="278.21" x2="278.21" y1="255.0" y2="285.0" stroke="#939393" stroke-width="1"/>
<rect x="276.31" y="267.4" width="3.8" height="17.2" fill="#5da376" stroke="#3a8758" stroke-width="0.8"/>
<line x1="283.78" x2="283.78" y1="263.4" y2="283.0" stroke="#939393" stroke-width="1"/>
<rect x="281.88" y="267.4" width="3.8" height="3.2" fill="#ef5a3f" stroke="#b8321f" stroke-width="0.8"/>
<line x1="289.35" x2="289.35" y1="267.4" y2="289.0" stroke="#939393" stroke-width="1"/>
<rect x="287.45" y="270.0" width="3.8" height="13.4" fill="#ef5a3f" stroke="#b8321f" stroke-width="0.8"/>
<line x1="294.92" x2="294.92" y1="283.0" y2="303.0" stroke="#939393" stroke-width="1"/>
<rect x="293.02" y="283.4" width="3.8" height="16.0" fill="#ef5a3f" stroke="#b8321f" stroke-width="0.8"/>
<line x1="300.49" x2="300.49" y1="286.0" y2="306.0" stroke="#939393" stroke-width="1"/>
<rect x="298.59" y="290.0" width="3.8" height="9.0" fill="#5da376" stroke="#3a8758" stroke-width="0.8"/>
<line x1="306.06" x2="306.06" y1="279.0" y2="295.0" stroke="#939393" stroke-width="1"/>
<rect x="304.16" y="290.0" width="3.8" height="4.0" fill="#ef5a3f" stroke="#b8321f" stroke-width="0.8"/>
<line x1="311.63" x2="311.63" y1="277.0" y2="300.6" stroke="#939393" stroke-width="1"/>
<rect x="309.73" y="279.4" width="3.8" height="14.0" fill="#5da376" stroke="#3a8758" stroke-width="0.8"/>
<line x1="317.20" x2="317.20" y1="273.0" y2="303.0" stroke="#939393" stroke-width="1"/>
<rect x="315.30" y="279.4" width="3.8" height="19.0" fill="#ef5a3f" stroke="#b8321f" stroke-width="0.8"/>
<line x1="322.77" x2="322.77" y1="290.6" y2="311.4" stroke="#939393" stroke-width="1"/>
<rect x="320.87" y="295.0" width="3.8" height="4.0" fill="#5da376" stroke="#3a8758" stroke-width="0.8"/>
<line x1="328.34" x2="328.34" y1="293.0" y2="303.0" stroke="#939393" stroke-width="1"/>
<rect x="326.44" y="295.0" width="3.8" height="3.4" fill="#ef5a3f" stroke="#b8321f" stroke-width="0.8"/>
<line x1="333.91" x2="333.91" y1="281.6" y2="302.0" stroke="#939393" stroke-width="1"/>
<rect x="332.01" y="286.6" width="3.8" height="12.0" fill="#5da376" stroke="#3a8758" stroke-width="0.8"/>
<line x1="339.48" x2="339.48" y1="278.6" y2="290.0" stroke="#939393" stroke-width="1"/>
<rect x="337.58" y="284.6" width="3.8" height="1.4" fill="#5da376" stroke="#3a8758" stroke-width="0.8"/>
<line x1="345.05" x2="345.05" y1="284.0" y2="294.6" stroke="#939393" stroke-width="1"/>
<rect x="343.15" y="284.4" width="3.8" height="5.0" fill="#ef5a3f" stroke="#b8321f" stroke-width="0.8"/>
<line x1="350.62" x2="350.62" y1="287.0" y2="298.5" stroke="#939393" stroke-width="1"/>
<rect x="348.72" y="289.0" width="3.8" height="6.0" fill="#ef5a3f" stroke="#b8321f" stroke-width="0.8"/>
<line x1="356.19" x2="356.19" y1="287.0" y2="295.6" stroke="#939393" stroke-width="1"/>
<rect x="354.29" y="289.4" width="3.8" height="5.6" fill="#5da376" stroke="#3a8758" stroke-width="0.8"/>
<line x1="361.76" x2="361.76" y1="279.0" y2="293.6" stroke="#939393" stroke-width="1"/>
<rect x="359.86" y="285.4" width="3.8" height="4.0" fill="#5da376" stroke="#3a8758" stroke-width="0.8"/>
<line x1="367.33" x2="367.33" y1="269.0" y2="286.0" stroke="#939393" stroke-width="1"/>
<rect x="365.43" y="283.0" width="3.8" height="1.6" fill="#5da376" stroke="#3a8758" stroke-width="0.8"/>
<line x1="372.90" x2="372.90" y1="277.0" y2="299.6" stroke="#939393" stroke-width="1"/>
<rect x="371.00" y="282.4" width="3.8" height="13.2" fill="#ef5a3f" stroke="#b8321f" stroke-width="0.8"/>
<line x1="378.47" x2="378.47" y1="289.4" y2="301.0" stroke="#939393" stroke-width="1"/>
<rect x="376.57" y="295.4" width="3.8" height="1.2" fill="#ef5a3f" stroke="#b8321f" stroke-width="0.8"/>
<line x1="384.04" x2="384.04" y1="295.0" y2="304.4" stroke="#939393" stroke-width="1"/>
<rect x="382.14" y="296.0" width="3.8" height="4.0" fill="#ef5a3f" stroke="#b8321f" stroke-width="0.8"/>
<line x1="389.61" x2="389.61" y1="299.0" y2="323.6" stroke="#939393" stroke-width="1"/>
<rect x="387.71" y="299.4" width="3.8" height="16.2" fill="#ef5a3f" stroke="#b8321f" stroke-width="0.8"/>
<line x1="395.18" x2="395.18" y1="303.0" y2="333.6" stroke="#939393" stroke-width="1"/>
<rect x="393.28" y="312.4" width="3.8" height="2.6" fill="#5da376" stroke="#3a8758" stroke-width="0.8"/>
<line x1="400.75" x2="400.75" y1="302.0" y2="316.4" stroke="#939393" stroke-width="1"/>
<rect x="398.85" y="306.0" width="3.8" height="6.0" fill="#5da376" stroke="#3a8758" stroke-width="0.8"/>
<line x1="406.32" x2="406.32" y1="303.0" y2="313.0" stroke="#939393" stroke-width="1"/>
<rect x="404.42" y="306.4" width="3.8" height="3.2" fill="#ef5a3f" stroke="#b8321f" stroke-width="0.8"/>
<line x1="411.89" x2="411.89" y1="309.0" y2="320.0" stroke="#939393" stroke-width="1"/>
<rect x="409.99" y="310.0" width="3.8" height="3.6" fill="#ef5a3f" stroke="#b8321f" stroke-width="0.8"/>
<line x1="417.46" x2="417.46" y1="313.6" y2="383.6" stroke="#939393" stroke-width="1"/>
<rect x="415.56" y="314.4" width="3.8" height="44.1" fill="#ef5a3f" stroke="#b8321f" stroke-width="0.8"/>
<line x1="423.03" x2="423.03" y1="351.0" y2="406.4" stroke="#939393" stroke-width="1"/>
<rect x="421.13" y="357.0" width="3.8" height="1.4" fill="#5da376" stroke="#3a8758" stroke-width="0.8"/>
<line x1="428.60" x2="428.60" y1="355.0" y2="368.5" stroke="#939393" stroke-width="1"/>
<rect x="426.70" y="357.0" width="3.8" height="3.5" fill="#ef5a3f" stroke="#b8321f" stroke-width="0.8"/>
<line x1="434.17" x2="434.17" y1="349.0" y2="363.0" stroke="#939393" stroke-width="1"/>
<rect x="432.27" y="354.5" width="3.8" height="6.0" fill="#5da376" stroke="#3a8758" stroke-width="0.8"/>
<line x1="439.74" x2="439.74" y1="320.0" y2="357.6" stroke="#939393" stroke-width="1"/>
<rect x="437.84" y="332.4" width="3.8" height="21.8" fill="#5da376" stroke="#3a8758" stroke-width="0.8"/>
<line x1="445.31" x2="445.31" y1="322.0" y2="341.0" stroke="#939393" stroke-width="1"/>
<rect x="443.41" y="331.6" width="3.8" height="1.4" fill="#ef5a3f" stroke="#b8321f" stroke-width="0.8"/>
<line x1="450.88" x2="450.88" y1="332.0" y2="350.0" stroke="#939393" stroke-width="1"/>
<rect x="448.98" y="332.4" width="3.8" height="11.2" fill="#ef5a3f" stroke="#b8321f" stroke-width="0.8"/>
<line x1="456.45" x2="456.45" y1="342.8" y2="364.2" stroke="#939393" stroke-width="1"/>
<rect x="454.55" y="343.2" width="3.8" height="11.0" fill="#ef5a3f" stroke="#b8321f" stroke-width="0.8"/>
<line x1="462.02" x2="462.02" y1="340.7" y2="361.3" stroke="#939393" stroke-width="1"/>
<rect x="460.12" y="347.6" width="3.8" height="6.6" fill="#5da376" stroke="#3a8758" stroke-width="0.8"/>
<line x1="467.59" x2="467.59" y1="337.5" y2="351.0" stroke="#939393" stroke-width="1"/>
<rect x="465.69" y="339.2" width="3.8" height="9.0" fill="#5da376" stroke="#3a8758" stroke-width="0.8"/>
<line x1="473.16" x2="473.16" y1="338.6" y2="356.0" stroke="#939393" stroke-width="1"/>
<rect x="471.26" y="339.4" width="3.8" height="7.0" fill="#ef5a3f" stroke="#b8321f" stroke-width="0.8"/>
<line x1="478.73" x2="478.73" y1="342.0" y2="353.6" stroke="#939393" stroke-width="1"/>
<rect x="476.83" y="346.4" width="3.8" height="3.2" fill="#ef5a3f" stroke="#b8321f" stroke-width="0.8"/>
<line x1="484.30" x2="484.30" y1="336.0" y2="352.7" stroke="#939393" stroke-width="1"/>
<rect x="482.40" y="348.6" width="3.8" height="1.2" fill="#5da376" stroke="#3a8758" stroke-width="0.8"/>
<line x1="489.87" x2="489.87" y1="349.0" y2="356.0" stroke="#939393" stroke-width="1"/>
<rect x="487.97" y="349.0" width="3.8" height="1.2" fill="#ef5a3f" stroke="#b8321f" stroke-width="0.8"/>
<line x1="495.44" x2="495.44" y1="349.6" y2="380.0" stroke="#939393" stroke-width="1"/>
<rect x="493.54" y="350.0" width="3.8" height="17.0" fill="#ef5a3f" stroke="#b8321f" stroke-width="0.8"/>
<line x1="501.01" x2="501.01" y1="359.0" y2="378.0" stroke="#939393" stroke-width="1"/>
<rect x="499.11" y="365.6" width="3.8" height="2.0" fill="#5da376" stroke="#3a8758" stroke-width="0.8"/>
<line x1="506.58" x2="506.58" y1="365.6" y2="371.6" stroke="#939393" stroke-width="1"/>
<rect x="504.68" y="366.4" width="3.8" height="2.2" fill="#ef5a3f" stroke="#b8321f" stroke-width="0.8"/>
<line x1="512.15" x2="512.15" y1="361.0" y2="371.0" stroke="#939393" stroke-width="1"/>
<rect x="510.25" y="364.4" width="3.8" height="4.6" fill="#5da376" stroke="#3a8758" stroke-width="0.8"/>
<line x1="517.72" x2="517.72" y1="362.0" y2="373.6" stroke="#939393" stroke-width="1"/>
<rect x="515.82" y="364.4" width="3.8" height="2.0" fill="#ef5a3f" stroke="#b8321f" stroke-width="0.8"/>
<line x1="523.29" x2="523.29" y1="354.4" y2="370.0" stroke="#939393" stroke-width="1"/>
<rect x="521.39" y="360.0" width="3.8" height="6.4" fill="#5da376" stroke="#3a8758" stroke-width="0.8"/>
<line x1="528.86" x2="528.86" y1="352.4" y2="364.0" stroke="#939393" stroke-width="1"/>
<rect x="526.96" y="357.4" width="3.8" height="2.2" fill="#5da376" stroke="#3a8758" stroke-width="0.8"/>
<line x1="534.43" x2="534.43" y1="356.5" y2="365.0" stroke="#939393" stroke-width="1"/>
<rect x="532.53" y="359.4" width="3.8" height="4.2" fill="#ef5a3f" stroke="#b8321f" stroke-width="0.8"/>
<line x1="540.00" x2="540.00" y1="362.2" y2="371.0" stroke="#939393" stroke-width="1"/>
<rect x="538.10" y="363.6" width="3.8" height="2.8" fill="#ef5a3f" stroke="#b8321f" stroke-width="0.8"/>
<line x1="545.57" x2="545.57" y1="363.6" y2="378.0" stroke="#939393" stroke-width="1"/>
<rect x="543.67" y="367.0" width="3.8" height="5.4" fill="#ef5a3f" stroke="#b8321f" stroke-width="0.8"/>
<line x1="551.14" x2="551.14" y1="357.0" y2="374.0" stroke="#939393" stroke-width="1"/>
<rect x="549.24" y="362.0" width="3.8" height="11.0" fill="#5da376" stroke="#3a8758" stroke-width="0.8"/>
<line x1="556.71" x2="556.71" y1="354.0" y2="366.4" stroke="#939393" stroke-width="1"/>
<rect x="554.81" y="358.4" width="3.8" height="3.6" fill="#5da376" stroke="#3a8758" stroke-width="0.8"/>
<line x1="562.28" x2="562.28" y1="355.0" y2="366.4" stroke="#939393" stroke-width="1"/>
<rect x="560.38" y="359.0" width="3.8" height="5.0" fill="#ef5a3f" stroke="#b8321f" stroke-width="0.8"/>
<line x1="567.85" x2="567.85" y1="356.4" y2="370.0" stroke="#939393" stroke-width="1"/>
<rect x="565.95" y="363.0" width="3.8" height="1.2" fill="#ef5a3f" stroke="#b8321f" stroke-width="0.8"/>
<line x1="573.42" x2="573.42" y1="361.0" y2="373.6" stroke="#939393" stroke-width="1"/>
<rect x="571.52" y="364.4" width="3.8" height="4.0" fill="#ef5a3f" stroke="#b8321f" stroke-width="0.8"/>
<line x1="578.99" x2="578.99" y1="366.0" y2="372.4" stroke="#939393" stroke-width="1"/>
<rect x="577.09" y="367.6" width="3.8" height="2.0" fill="#ef5a3f" stroke="#b8321f" stroke-width="0.8"/>
<line x1="584.56" x2="584.56" y1="366.0" y2="371.0" stroke="#939393" stroke-width="1"/>
<rect x="582.66" y="367.0" width="3.8" height="2.6" fill="#5da376" stroke="#3a8758" stroke-width="0.8"/>
<line x1="590.13" x2="590.13" y1="354.0" y2="369.0" stroke="#939393" stroke-width="1"/>
<rect x="588.23" y="359.0" width="3.8" height="8.0" fill="#5da376" stroke="#3a8758" stroke-width="0.8"/>
<line x1="595.70" x2="595.70" y1="355.6" y2="363.0" stroke="#939393" stroke-width="1"/>
<rect x="593.80" y="360.0" width="3.8" height="1.4" fill="#ef5a3f" stroke="#b8321f" stroke-width="0.8"/>
<line x1="601.27" x2="601.27" y1="356.4" y2="365.6" stroke="#939393" stroke-width="1"/>
<rect x="599.37" y="360.6" width="3.8" height="1.4" fill="#5da376" stroke="#3a8758" stroke-width="0.8"/>
<line x1="606.84" x2="606.84" y1="311.0" y2="361.0" stroke="#939393" stroke-width="1"/>
<rect x="604.94" y="328.4" width="3.8" height="32.2" fill="#5da376" stroke="#3a8758" stroke-width="0.8"/>
<line x1="612.41" x2="612.41" y1="275.0" y2="330.0" stroke="#939393" stroke-width="1"/>
<rect x="610.51" y="292.4" width="3.8" height="37.0" fill="#5da376" stroke="#3a8758" stroke-width="0.8"/>
<line x1="617.98" x2="617.98" y1="292.0" y2="333.0" stroke="#939393" stroke-width="1"/>
<rect x="616.08" y="292.4" width="3.8" height="16.2" fill="#ef5a3f" stroke="#b8321f" stroke-width="0.8"/>
<line x1="623.55" x2="623.55" y1="307.6" y2="332.0" stroke="#939393" stroke-width="1"/>
<rect x="621.65" y="308.0" width="3.8" height="10.0" fill="#ef5a3f" stroke="#b8321f" stroke-width="0.8"/>
<line x1="629.12" x2="629.12" y1="313.0" y2="327.0" stroke="#939393" stroke-width="1"/>
<rect x="627.22" y="318.0" width="3.8" height="6.0" fill="#ef5a3f" stroke="#b8321f" stroke-width="0.8"/>
<line x1="634.69" x2="634.69" y1="323.6" y2="350.0" stroke="#939393" stroke-width="1"/>
<rect x="632.79" y="324.0" width="3.8" height="16.6" fill="#ef5a3f" stroke="#b8321f" stroke-width="0.8"/>
<line x1="640.26" x2="640.26" y1="328.0" y2="353.0" stroke="#939393" stroke-width="1"/>
<rect x="638.36" y="340.6" width="3.8" height="11.4" fill="#ef5a3f" stroke="#b8321f" stroke-width="0.8"/>
<line x1="645.83" x2="645.83" y1="345.5" y2="414.0" stroke="#939393" stroke-width="1"/>
<rect x="643.93" y="352.5" width="3.8" height="43.7" fill="#ef5a3f" stroke="#b8321f" stroke-width="0.8"/>
<line x1="651.40" x2="651.40" y1="382.0" y2="397.5" stroke="#939393" stroke-width="1"/>
<rect x="649.50" y="393.0" width="3.8" height="3.8" fill="#5da376" stroke="#3a8758" stroke-width="0.8"/>
<line x1="645.8" x2="645.8" y1="24" y2="434" stroke="#a3a6ae" stroke-width="1" stroke-dasharray="2.6 2.6"/>
<polygon points="657.2,162.6 659.7,162.6 662.5,290 665.3,340 664.9,372.6 669.5,371.4 662.3,382.9 654.7,371.9 660,373 659,340 658.3,290" fill="#b5121c"/><circle cx="658.45" cy="162.6" r="1.25" fill="#b5121c"/>
<line x1="589.5" x2="671" y1="414" y2="414" stroke="#b5121c" stroke-width="3.2" stroke-linecap="round"/>
<line x1="35.5" x2="720" y1="434.6" y2="434.6" stroke="#6f727b" stroke-width="1"/>
<line x1="683" x2="683" y1="24.5" y2="451.5" stroke="#8b8e97" stroke-width="1"/>
<line x1="683" x2="686" y1="25.4" y2="25.4" stroke="#8b8e97" stroke-width="1"/>
<text x="688.8" y="28.0" class="ax" textLength="24.8" lengthAdjust="spacingAndGlyphs">0.52000</text>
<line x1="683" x2="686" y1="51.3" y2="51.3" stroke="#8b8e97" stroke-width="1"/>
<text x="688.8" y="53.9" class="ax" textLength="24.8" lengthAdjust="spacingAndGlyphs">0.50000</text>
<line x1="683" x2="686" y1="77.2" y2="77.2" stroke="#8b8e97" stroke-width="1"/>
<text x="688.8" y="79.8" class="ax" textLength="24.8" lengthAdjust="spacingAndGlyphs">0.48000</text>
<line x1="683" x2="686" y1="103.1" y2="103.1" stroke="#8b8e97" stroke-width="1"/>
<text x="688.8" y="105.7" class="ax" textLength="24.8" lengthAdjust="spacingAndGlyphs">0.46000</text>
<line x1="683" x2="686" y1="129.0" y2="129.0" stroke="#8b8e97" stroke-width="1"/>
<text x="688.8" y="131.6" class="ax" textLength="24.8" lengthAdjust="spacingAndGlyphs">0.44000</text>
<line x1="683" x2="686" y1="154.9" y2="154.9" stroke="#8b8e97" stroke-width="1"/>
<text x="688.8" y="157.5" class="ax" textLength="24.8" lengthAdjust="spacingAndGlyphs">0.42000</text>
<line x1="683" x2="686" y1="180.8" y2="180.8" stroke="#8b8e97" stroke-width="1"/>
<text x="688.8" y="183.4" class="ax" textLength="24.8" lengthAdjust="spacingAndGlyphs">0.40000</text>
<line x1="683" x2="686" y1="206.7" y2="206.7" stroke="#8b8e97" stroke-width="1"/>
<text x="688.8" y="209.3" class="ax" textLength="24.8" lengthAdjust="spacingAndGlyphs">0.38000</text>
<line x1="683" x2="686" y1="232.6" y2="232.6" stroke="#8b8e97" stroke-width="1"/>
<text x="688.8" y="235.2" class="ax" textLength="24.8" lengthAdjust="spacingAndGlyphs">0.36000</text>
<line x1="683" x2="686" y1="258.5" y2="258.5" stroke="#8b8e97" stroke-width="1"/>
<text x="688.8" y="261.1" class="ax" textLength="24.8" lengthAdjust="spacingAndGlyphs">0.34000</text>
<line x1="683" x2="686" y1="284.4" y2="284.4" stroke="#8b8e97" stroke-width="1"/>
<text x="688.8" y="287.0" class="ax" textLength="24.8" lengthAdjust="spacingAndGlyphs">0.32000</text>
<line x1="683" x2="686" y1="310.3" y2="310.3" stroke="#8b8e97" stroke-width="1"/>
<text x="688.8" y="312.9" class="ax" textLength="24.8" lengthAdjust="spacingAndGlyphs">0.30000</text>
<line x1="683" x2="686" y1="336.2" y2="336.2" stroke="#8b8e97" stroke-width="1"/>
<text x="688.8" y="338.8" class="ax" textLength="24.8" lengthAdjust="spacingAndGlyphs">0.28000</text>
<line x1="683" x2="686" y1="362.1" y2="362.1" stroke="#8b8e97" stroke-width="1"/>
<text x="688.8" y="364.7" class="ax" textLength="24.8" lengthAdjust="spacingAndGlyphs">0.26000</text>
<line x1="683" x2="686" y1="388.0" y2="388.0" stroke="#8b8e97" stroke-width="1"/>
<text x="688.8" y="390.6" class="ax" textLength="24.8" lengthAdjust="spacingAndGlyphs">0.24000</text>
<line x1="683" x2="686" y1="413.9" y2="413.9" stroke="#8b8e97" stroke-width="1"/>
<text x="688.8" y="416.5" class="ax" textLength="24.8" lengthAdjust="spacingAndGlyphs">0.22000</text>
<line x1="56" x2="56" y1="434.6" y2="437" stroke="#6f727b" stroke-width="1"/>
<text x="56" y="446.4" class="ax" text-anchor="middle" style="font-size:6.4px">10</text>
<line x1="106" x2="106" y1="434.6" y2="437" stroke="#6f727b" stroke-width="1"/>
<text x="106" y="446.4" class="ax" text-anchor="middle" style="font-size:6.4px">19</text>
<line x1="173" x2="173" y1="434.6" y2="437" stroke="#6f727b" stroke-width="1"/>
<text x="173" y="446.4" class="ax" text-anchor="middle" style="font-size:6.4px">Jul</text>
<line x1="251" x2="251" y1="434.6" y2="437" stroke="#6f727b" stroke-width="1"/>
<text x="251" y="446.4" class="ax" text-anchor="middle" style="font-size:6.4px">15</text>
<line x1="346" x2="346" y1="434.6" y2="437" stroke="#6f727b" stroke-width="1"/>
<text x="346" y="446.4" class="ax" text-anchor="middle" style="font-size:6.4px">Aug</text>
<line x1="407" x2="407" y1="434.6" y2="437" stroke="#6f727b" stroke-width="1"/>
<text x="407" y="446.4" class="ax" text-anchor="middle" style="font-size:6.4px">12</text>
<line x1="457" x2="457" y1="434.6" y2="437" stroke="#6f727b" stroke-width="1"/>
<text x="457" y="446.4" class="ax" text-anchor="middle" style="font-size:6.4px">21</text>
<line x1="518" x2="518" y1="434.6" y2="437" stroke="#6f727b" stroke-width="1"/>
<text x="518" y="446.4" class="ax" text-anchor="middle" style="font-size:6.4px">Sep</text>
<line x1="602" x2="602" y1="434.6" y2="437" stroke="#6f727b" stroke-width="1"/>
<text x="602" y="446.4" class="ax" text-anchor="middle" style="font-size:6.4px">16</text>
<rect x="683.5" y="388" width="36.5" height="10.6" fill="#5da978"/>
<line x1="683.5" x2="686" y1="393.4" y2="393.4" stroke="#cfe8d8" stroke-width="0.8"/>
<text x="688.6" y="396" class="axw" textLength="24.9" lengthAdjust="spacingAndGlyphs">0.23569</text>
<rect x="671.5" y="408.5" width="48.5" height="10.6" fill="#4c525e"/>
<line x1="682.6" x2="682.6" y1="408.5" y2="419.1" stroke="#8b8e97" stroke-width="1"/>
<path d="M673.8 413.8h6.4M677 410.6v6.4" stroke="#aeb2bd" stroke-width="0.9" fill="none"/>
<line x1="683.5" x2="686" y1="413.8" y2="413.8" stroke="#cfd2da" stroke-width="0.8"/>
<text x="688.6" y="416.5" class="axw" textLength="24.9" lengthAdjust="spacingAndGlyphs">0.21998</text>
<rect x="626.7" y="435.2" width="38.3" height="13.6" fill="#4c525e"/>
<line x1="645.8" x2="645.8" y1="435" y2="437.5" stroke="#cfd2da" stroke-width="0.8"/>
<text x="631" y="444.9" class="axw" style="font-size:7px" textLength="31" lengthAdjust="spacingAndGlyphs">24 Sep '19</text>
</svg>

<!-- top toolbar -->
<div class="sep" style="left:100px"></div>
<div class="sep" style="left:124px"></div>
<div class="sep" style="left:149px"></div>
<div class="sep" style="left:174px"></div>
<div class="sep" style="left:212px"></div>
<div class="sep" style="left:236.5px"></div>
<div class="sep" style="left:262px"></div>
<div class="sep" style="left:287px"></div>
<div class="sep" style="left:327px"></div>
<div class="sep" style="left:448.5px"></div>
<div class="sep" style="left:473px"></div>
<div class="sep" style="left:567px"></div>
<div class="sep" style="left:592.5px"></div>
<div class="sep" style="left:617.5px"></div>
<div class="panel" style="left:642.4px;top:0;width:77.6px;height:23px;background:#2192f0"></div>
<div class="panel" style="left:693.3px;top:0;width:1.2px;height:23px;background:#58aef4"></div>

<svg width="720" height="502" viewBox="0 0 720 502" fill="none" stroke="#2a2e39" stroke-width="1.1" stroke-linecap="round" stroke-linejoin="round">
<!-- hamburger -->
<path d="M10.5 7.2h10M10.5 11h10M10.5 14.8h10" stroke-width="1.5" stroke="#1c1f28"/>
<circle cx="25" cy="5" r="5.6" fill="#f0365a" stroke="none"/>
<!-- candles icon -->
<path d="M134 4.5v1.8M134 14.8v2M139.8 6.2v2.2M139.8 13.2v2.8"/>
<rect x="132.9" y="6.3" width="2.2" height="8.4" rx=".6"/>
<rect x="138.7" y="8.4" width="2.2" height="4.8" rx=".6"/>
<!-- compare (+ in circle) -->
<circle cx="161.3" cy="11.3" r="6"/>
<path d="M158.3 11.3h6M161.3 8.3v6"/>
<!-- indicators -->
<path d="M180 9.6c1.6-3 3-3 4.4-.8s2.400 3.400 4 2.200l2.800-3.200"/>
<path d="M187.800 14.600h5M190.300 12.100v5"/>
<path d="M203 9.600l2 2 2-2" stroke-width="1.150"/>
<!-- templates -->
<path d="M218.500 8c2-2.800 3.600-2.800 5.300-.6s3.400 1.200 5.800-2.200M218.500 11.500c2-2.800 3.600-2.800 5.300-.6s3.400 1.200 5.800-2.200"/>
<path d="M219 16.400v-1M220.800 16.400v-2M222.600 16.400v-1.400M224.200 16.400v-1" stroke-width=".8"/>
<path d="M226.300 14.700h5M228.800 12.200v5"/>
<!-- alert -->
<path d="M253.900 8.600a5.300 5.300 0 1 0-3.600 7"/>
<path d="M243.600 7.800c.2-2 2-3 3.600-2.200M254.200 7.400c-.2-1.800-2-2.800-3.600-2"/>
<path d="M249 7.600v3h-1.800" stroke-width=".9"/>
<path d="M251 14.600h4.800M253.400 12.200v4.800"/>
<!-- rewind -->
<path d="M274.600 7.700l-4.200 3.500 4.200 3.500zM279.400 7.700l-4.200 3.500 4.200 3.500z"/>
<!-- undo -->
<path d="M297.300 8.300l-3.200 2.400 3.200 2.400M294.300 10.700h4.200c2 0 3.200 1.400 3.200 3.200"/>
<!-- redo -->
<path d="M316.700 8.300l3.200 2.400-3.200 2.400M319.700 10.700h-4.200c-2 0-3.200 1.400-3.200 3.200" stroke="#c4c7d0"/>
<!-- layout square -->
<rect x="455.500" y="5.700" width="11.400" height="10.600" rx="1.600" stroke="#50535e" stroke-width="1.200"/>
<!-- cloud -->
<path d="M481.200 15.300c-3 0-3.200-4 0-4.400.6-4 6-5.600 8-1.200 3.600.2 4.400 5.600 1 5.600z" stroke-dasharray="1.300 1.300" stroke-width="1"/>
<path d="M558.800 9.600l2 2 2-2" stroke-width="1.150"/>
<!-- gear -->
<g transform="translate(580 10.800) scale(.88) translate(-580 -10.900)">
<path d="M578.900 4.600h2.300l.5 1.700 1.300.6 1.600-.8 1.600 1.600-.8 1.600.6 1.300 1.700.5v2.300l-1.700.5-.6 1.300.8 1.600-1.600 1.600-1.600-.8-1.300.6-.5 1.700h-2.300l-.5-1.700-1.300-.6-1.600.8-1.600-1.600.8-1.600-.6-1.300-1.700-.5v-2.300l1.700-.5.6-1.300-.8-1.600 1.600-1.600 1.600.8 1.300-.6z" transform="translate(0,-1.300)" stroke-width="1.150"/>
<circle cx="580" cy="10.900" r="2.200" stroke-width="1.150"/>
</g>
<!-- fullscreen -->
<path d="M600.300 8.300v-2.500h2.500M600.500 6l2.600 2.600M610.700 8.300v-2.500h-2.500M610.500 6l-2.600 2.600M600.300 13.300v2.500h2.500M600.500 15.600l2.600-2.600M610.700 13.300v2.500h-2.500M610.500 15.600l-2.600-2.600" stroke-width="1"/>
<!-- camera -->
<path d="M625 7.300h2l1-1.600h4l1 1.600h2c.8 0 1.400.6 1.400 1.400v5.400c0 .8-.6 1.400-1.400 1.400h-10c-.8 0-1.400-.6-1.400-1.400v-5.400c0-.8.600-1.400 1.400-1.400z" stroke="#3c404b"/>
<circle cx="630" cy="11.200" r="2.400" stroke="#3c404b"/>
<!-- play -->
<circle cx="706.200" cy="11" r="6" stroke="#fff" stroke-width="1.100"/>
<path d="M704.300 8.200l4.600 2.800-4.600 2.800z" fill="#fff" stroke="none"/>

<!-- LEFT TOOLBAR -->
<!-- crosshair -->
<path d="M9 39.400h5M18.600 39.400h5M16.300 32v5M16.300 42v4.600" stroke="#5aa9f5" stroke-width="1.200" stroke-linecap="butt"/>
<!-- trend line -->
<path d="M11.600 66.400l8.800-8.800"/>
<circle cx="10.500" cy="67.500" r="1.500"/><circle cx="21.500" cy="56.500" r="1.500"/>
<!-- pitchfork -->
<path d="M11.200 82.600l4.500-4.500M11.300 84.300l5.500 5.400M11 90l8.100-8.200M18.400 89.700l4.400-4.200" stroke-width="1"/>
<circle cx="10.400" cy="83.400" r="1.150" stroke-width=".9"/><circle cx="10.200" cy="90.800" r="1.150" stroke-width=".9"/><circle cx="17.600" cy="90.500" r="1.150" stroke-width=".9"/>
<!-- brush -->
<path d="M9 113.600c1.200-3.600 3-6 5.600-7 2.200.600 3.800 2.200 4.200 4.200-.800 1.800-2.200 2.800-3.800 3.100-2 .300-4 .100-6-.300z" stroke-width="1"/>
<path d="M17.800 104.800c-.300 1.600.800 2.600 2.400 2.400 1.600-.800 3-2.200 4.400-3.800" stroke-width="1"/>
<!-- T -->
<path d="M12.400 127v-1.400h8.400v1.400M16.600 125.600v11M15 136.600h3.200" stroke-width="1"/>
<!-- pattern -->
<path d="M10.100 158.400l2.100-8.700 3.600 4 4.300-3.400 2.200 7.900-6.500-4.500z" stroke-width=".9"/>
<circle cx="12.200" cy="148.800" r="1.200" fill="#fff" stroke-width=".9"/><circle cx="20.200" cy="149.300" r="1.200" fill="#fff" stroke-width=".9"/><circle cx="10.100" cy="159.400" r="1.200" fill="#fff" stroke-width=".9"/><circle cx="22.400" cy="158.200" r="1.200" fill="#fff" stroke-width=".9"/>
<!-- measure -->
<path d="M11.300 171.700h11.400M11.300 179.100h10.200M11.300 183.600h11.400M16.400 173.800v8.200M15.300 175l1.100-1.300 1.100 1.300M15.300 180.800l1.100 1.300 1.100-1.300" stroke-width=".9"/>
<circle cx="10" cy="171.700" r="1.100" fill="#fff" stroke-width=".9"/><circle cx="10" cy="179.100" r="1.100" fill="#fff" stroke-width=".9"/><circle cx="10" cy="183.600" r="1.100" fill="#fff" stroke-width=".9"/><circle cx="22.700" cy="179.100" r="1.100" fill="#fff" stroke-width=".9"/>
<!-- back arrow -->
<path d="M20.600 201.600h-8M15.800 197.800l-4 3.800 4 3.800" stroke="#111" stroke-width="2.100" stroke-linecap="butt" stroke-linejoin="miter"/>
<!-- ruler -->
<g transform="rotate(-38 15.300 231.300)"><rect x="7.300" y="228.900" width="16" height="4.800" rx=".6" stroke-width="1"/><path d="M10 228.900v1.800M12.600 228.900v2.400M15.300 228.900v1.800M18 228.900v2.400M20.600 228.900v1.800" stroke-width=".8"/></g>
<!-- zoom -->
<circle cx="15" cy="254.300" r="4.900"/><path d="M18.600 257.800l3 3M12.900 254.300h4.200M15 252.200v4.200"/>
<!-- magnet -->
<path d="M10.800 292v-7a5.200 5.200 0 0 1 10.400 0v7h-3.200v-7a2 2 0 0 0-4 0v7zM10.800 289.600h3.200M18 289.600h3.200"/>
<!-- pencil lock -->
<path d="M9 312l.8-3.200 7.600-6.400 2.400 2.800-7.600 6.400zM10.600 308.400l2.200 2.600M16 303.600l2.400 2.800" stroke-width="1"/>
<rect x="17.600" y="311" width="5.200" height="4.200" rx=".8" stroke-width="1"/><path d="M18.800 311v-1.400c0-2 3-2 3-.4" stroke-width="1"/>
<!-- lock -->
<rect x="11" y="330.400" width="10.400" height="8" rx="1.200"/><path d="M13.400 330.400v-2.600c0-3.400 5.400-3.400 5.600-.6"/><circle cx="16.200" cy="334.600" r=".8" fill="#2a2e39"/>
<!-- eye -->
<path d="M9.700 355.800c3.600-6 9.400-6 13 0-3.600 6-9.400 6-13 0z"/><circle cx="16.200" cy="355.700" r="2" fill="#111" stroke="none"/>
<!-- trash -->
<path d="M11.200 383.200h9M13.600 383.200v-1.400h4.200v1.400M12 383.200v8.800c0 .8.600 1.400 1.400 1.400h4.600c.8 0 1.400-.6 1.400-1.400v-8.800M14.200 385.400v5.600M15.700 385.400v5.600M17.200 385.400v5.600" stroke="#50535e" stroke-width="1"/>
<!-- layers -->
<path d="M16 473.600l5.600 3.800-5.600 3.800-5.600-3.800zM10.400 479.600l5.600 3.800 5.600-3.800M10.400 481.800l5.600 3.800 5.600-3.800" stroke-width="1"/>

<!-- legend icons -->
<rect x="43.300" y="32.200" width="8.200" height="8.400" rx="1.600" stroke="#8b8e97" stroke-width="1"/><path d="M45.300 36.400h4.200" stroke="#8b8e97"/>
<path d="M58 32.600h6.600l-1.800 3.700 1.800 3.700h-6.600z" fill="#aab1c2" stroke="none"/>
<path d="M229.600 34.600l1.800 1.800 1.800-1.800" stroke-width="1"/>
<path d="M76.200 52l1.500 1.500 1.500-1.500M103.800 67.100l1.500 1.500 1.500-1.500M99.500 82.300l1.500 1.500 1.500-1.500M108.500 97.400l1.500 1.500 1.500-1.500" stroke-width="1" stroke="#2a2e39"/>
<!-- bottom panel icons -->
<path d="M112.800 490.400l1.600 1.600 1.600-1.600" stroke-width="1"/>
<path d="M674.200 492.900l5.800-5.200 5.800 5.200" stroke="#3c404b"/>
<rect x="697.300" y="486.300" width="11.400" height="9.800" rx="1.600" stroke="#3c404b"/><path d="M697.300 488.900h11.400" stroke="#3c404b"/>
<!-- gear small -->
<circle cx="700.600" cy="443.800" r="3.300" stroke="#3c404b" stroke-width="1.250"/>
<path d="M700.600 438.900v1.300M700.600 447.400v1.300M695.700 443.800h1.300M704.200 443.800h1.300M697.100 440.300l.95.95M703.150 446.350l.95.95M697.100 447.300l.95-.95M703.150 441.250l.95-.95" stroke="#3c404b" stroke-width="1.700" stroke-linecap="butt"/>
</svg>

<!-- legend -->

<!-- range row -->
<div style="position:absolute;left:227.500px;top:457.500px;width:1px;height:13px;background:#e4e6ef"></div>
<div style="position:absolute;left:644px;top:457.500px;width:1px;height:13px;background:#e4e6ef"></div>

<!-- bottom tabs -->
<div style="position:absolute;left:120px;top:479px;width:1px;height:23px;background:#e4e6ef"></div>
<div style="position:absolute;left:185px;top:479px;width:1px;height:23px;background:#e4e6ef"></div>
<div style="position:absolute;left:250px;top:479px;width:1px;height:23px;background:#e4e6ef"></div>
<div style="position:absolute;left:333px;top:479px;width:1px;height:23px;background:#e4e6ef"></div>
<div style="position:absolute;left:410px;top:479px;width:1px;height:23px;background:#e4e6ef"></div>
<svg width="720" height="502" viewBox="0 0 720 502" style="will-change:transform">
<text x="25" y="7.3" font-size="6.3" fill="#fff" font-weight="bold" text-anchor="middle">11</text>
<text x="43" y="14" font-size="8.6" fill="#20232c" font-weight="bold" textLength="32.0" lengthAdjust="spacingAndGlyphs" >XRPUSD</text>
<text x="109.4" y="14" font-size="8.6" fill="#20232c" font-weight="bold" textLength="5.1" lengthAdjust="spacingAndGlyphs" >D</text>
<text x="496.3" y="13.9" font-size="8.6" fill="#2a2e39" font-weight="normal" textLength="54.1" lengthAdjust="spacingAndGlyphs" >Без названия</text>
<text x="652.6" y="14.3" font-size="9" fill="#fff" font-weight="normal" textLength="30.6" lengthAdjust="spacingAndGlyphs" stroke="#fff" stroke-width=".35">Publish</text>
<text x="67.7" y="40" font-size="10.7" fill="#4a4d57" font-weight="normal" textLength="158.3" lengthAdjust="spacingAndGlyphs" >XRP / U.S. Dollar · 1D · BITSTAMP</text>
<text x="244.7" y="39.7" font-size="8.1" fill="#6a6d78" font-weight="normal" textLength="4.8" lengthAdjust="spacingAndGlyphs" >O</text>
<text x="250.4" y="39.7" font-size="8.1" fill="#8b2a2a" font-weight="normal" textLength="29.5" lengthAdjust="spacingAndGlyphs" >0.26740</text>
<text x="287.1" y="39.7" font-size="8.1" fill="#6a6d78" font-weight="normal" textLength="3.7" lengthAdjust="spacingAndGlyphs" >H</text>
<text x="291.6" y="39.7" font-size="8.1" fill="#8b2a2a" font-weight="normal" textLength="28.9" lengthAdjust="spacingAndGlyphs" >0.27282</text>
<text x="328.4" y="39.7" font-size="8.1" fill="#6a6d78" font-weight="normal" textLength="2.8" lengthAdjust="spacingAndGlyphs" >L</text>
<text x="331.7" y="39.7" font-size="8.1" fill="#8b2a2a" font-weight="normal" textLength="29.8" lengthAdjust="spacingAndGlyphs" >0.22000</text>
<text x="369" y="39.7" font-size="8.1" fill="#6a6d78" font-weight="normal" textLength="4.2" lengthAdjust="spacingAndGlyphs" >C</text>
<text x="374.1" y="39.7" font-size="8.1" fill="#8b2a2a" font-weight="normal" textLength="29.2" lengthAdjust="spacingAndGlyphs" >0.23365</text>
<text x="411.4" y="39.7" font-size="8.1" fill="#8b2a2a" font-weight="normal" textLength="32.5" lengthAdjust="spacingAndGlyphs" >−0.03405</text>
<text x="447.5" y="39.7" font-size="8.1" fill="#8b2a2a" font-weight="normal" textLength="35.2" lengthAdjust="spacingAndGlyphs" >(−12.72%)</text>
<text x="42.7" y="55.4" font-size="8.2" fill="#50535e" font-weight="normal" textLength="29.0" lengthAdjust="spacingAndGlyphs" >Vol (20)</text>
<text x="42.7" y="70.5" font-size="8.2" fill="#50535e" font-weight="normal" textLength="56.6" lengthAdjust="spacingAndGlyphs" >MA (200, close)</text>
<text x="42.7" y="85.7" font-size="8.2" fill="#50535e" font-weight="normal" textLength="52.6" lengthAdjust="spacingAndGlyphs" >MA (50, close)</text>
<text x="42.7" y="100.8" font-size="8.2" fill="#50535e" font-weight="normal" textLength="61.0" lengthAdjust="spacingAndGlyphs" >BB (20, close, 2)</text>
<rect x="87.05" y="47.80" width="8.9" height="8.3" fill="#b5b9c7" opacity=".93"/>
<rect x="98.05" y="47.80" width="8.9" height="8.3" fill="#b5b9c7" opacity=".93"/>
<rect x="109.05" y="47.80" width="8.9" height="8.3" fill="#b5b9c7" opacity=".93"/>
<ellipse cx="91.50" cy="51.95" rx="3.2" ry="2.3" fill="#fff"/><circle cx="91.50" cy="51.95" r="1.15" fill="#b5b9c7"/><circle cx="91.50" cy="51.95" r=".45" fill="#fff"/>
<circle cx="102.50" cy="51.95" r="2.6" fill="#fff"/><path d="M99.20 51.95h6.6M102.50 48.65v6.6M100.20 49.65l4.6 4.6M100.20 54.25l4.6-4.6" stroke="#fff" stroke-width="1.3"/><circle cx="102.50" cy="51.95" r=".95" fill="#b5b9c7"/>
<path d="M110.80 49.25l5.4 5.4M110.80 54.65l5.4-5.4" stroke="#fff" stroke-width="1.7"/>
<rect x="115.00" y="63.10" width="8.9" height="8.3" fill="#b5b9c7" opacity=".93"/>
<rect x="126.00" y="63.10" width="8.9" height="8.3" fill="#b5b9c7" opacity=".93"/>
<rect x="137.00" y="63.10" width="8.9" height="8.3" fill="#b5b9c7" opacity=".93"/>
<ellipse cx="119.45" cy="67.25" rx="3.2" ry="2.3" fill="#fff"/><circle cx="119.45" cy="67.25" r="1.15" fill="#b5b9c7"/><circle cx="119.45" cy="67.25" r=".45" fill="#fff"/>
<circle cx="130.45" cy="67.25" r="2.6" fill="#fff"/><path d="M127.15 67.25h6.6M130.45 63.95v6.6M128.15 64.95l4.6 4.6M128.15 69.55l4.6-4.6" stroke="#fff" stroke-width="1.3"/><circle cx="130.45" cy="67.25" r=".95" fill="#b5b9c7"/>
<path d="M138.75 64.55l5.4 5.4M138.75 69.95l5.4-5.4" stroke="#fff" stroke-width="1.7"/>
<rect x="110.00" y="78.30" width="8.9" height="8.3" fill="#b5b9c7" opacity=".93"/>
<rect x="121.00" y="78.30" width="8.9" height="8.3" fill="#b5b9c7" opacity=".93"/>
<rect x="132.00" y="78.30" width="8.9" height="8.3" fill="#b5b9c7" opacity=".93"/>
<ellipse cx="114.45" cy="82.45" rx="3.2" ry="2.3" fill="#fff"/><circle cx="114.45" cy="82.45" r="1.15" fill="#b5b9c7"/><circle cx="114.45" cy="82.45" r=".45" fill="#fff"/>
<circle cx="125.45" cy="82.45" r="2.6" fill="#fff"/><path d="M122.15 82.45h6.6M125.45 79.15v6.6M123.15 80.15l4.6 4.6M123.15 84.75l4.6-4.6" stroke="#fff" stroke-width="1.3"/><circle cx="125.45" cy="82.45" r=".95" fill="#b5b9c7"/>
<path d="M133.75 79.75l5.4 5.4M133.75 85.15l5.4-5.4" stroke="#fff" stroke-width="1.7"/>
<rect x="118.80" y="93.40" width="8.9" height="8.3" fill="#b5b9c7" opacity=".93"/>
<rect x="129.80" y="93.40" width="8.9" height="8.3" fill="#b5b9c7" opacity=".93"/>
<rect x="140.80" y="93.40" width="8.9" height="8.3" fill="#b5b9c7" opacity=".93"/>
<ellipse cx="123.25" cy="97.55" rx="3.2" ry="2.3" fill="#fff"/><circle cx="123.25" cy="97.55" r="1.15" fill="#b5b9c7"/><circle cx="123.25" cy="97.55" r=".45" fill="#fff"/>
<circle cx="134.25" cy="97.55" r="2.6" fill="#fff"/><path d="M130.95 97.55h6.6M134.25 94.25v6.6M131.95 95.25l4.6 4.6M131.95 99.85l4.6-4.6" stroke="#fff" stroke-width="1.3"/><circle cx="134.25" cy="97.55" r=".95" fill="#b5b9c7"/>
<path d="M142.55 94.85l5.4 5.4M142.55 100.25l5.4-5.4" stroke="#fff" stroke-width="1.7"/>
<text x="123.6" y="55.4" font-size="8.2" fill="#f0534f" font-weight="normal" textLength="34.3" lengthAdjust="spacingAndGlyphs" >109.175M</text>
<text x="163.9" y="55.4" font-size="8.2" fill="#f9a04a" font-weight="normal" textLength="30.1" lengthAdjust="spacingAndGlyphs" >34.871M</text>
<text x="151" y="70.5" font-size="8.2" fill="#f9941e" font-weight="normal" textLength="28.4" lengthAdjust="spacingAndGlyphs" >0.33374</text>
<text x="146.7" y="85.7" font-size="8.2" fill="#2d7fe0" font-weight="normal" textLength="28.6" lengthAdjust="spacingAndGlyphs" >0.27265</text>
<text x="155.4" y="100.8" font-size="8.2" fill="#8b2a2a" font-weight="normal" textLength="28.6" lengthAdjust="spacingAndGlyphs" >0.26784</text>
<text x="190" y="100.8" font-size="8.2" fill="#2a8f86" font-weight="normal" textLength="29.0" lengthAdjust="spacingAndGlyphs" >0.30569</text>
<text x="224.4" y="100.8" font-size="8.2" fill="#2a8f86" font-weight="normal" textLength="29.1" lengthAdjust="spacingAndGlyphs" >0.23000</text>
<text x="46" y="467" font-size="8.8" fill="#2a2e39" font-weight="normal" textLength="9.0" lengthAdjust="spacingAndGlyphs" stroke="#2a2e39" stroke-width=".3">1D</text>
<text x="65" y="467" font-size="8.8" fill="#2a2e39" font-weight="normal" textLength="10.0" lengthAdjust="spacingAndGlyphs" stroke="#2a2e39" stroke-width=".3">5D</text>
<text x="84" y="467" font-size="8.8" fill="#2a2e39" font-weight="normal" textLength="11.0" lengthAdjust="spacingAndGlyphs" stroke="#2a2e39" stroke-width=".3">1M</text>
<text x="104" y="467" font-size="8.8" fill="#2a2e39" font-weight="normal" textLength="11.0" lengthAdjust="spacingAndGlyphs" stroke="#2a2e39" stroke-width=".3">3M</text>
<text x="124" y="467" font-size="8.8" fill="#2a2e39" font-weight="normal" textLength="11.0" lengthAdjust="spacingAndGlyphs" stroke="#2a2e39" stroke-width=".3">6M</text>
<text x="144" y="467" font-size="8.8" fill="#2a2e39" font-weight="normal" textLength="15.3" lengthAdjust="spacingAndGlyphs" stroke="#2a2e39" stroke-width=".3">YTD</text>
<text x="169.3" y="467" font-size="8.8" fill="#2a2e39" font-weight="normal" textLength="9.0" lengthAdjust="spacingAndGlyphs" stroke="#2a2e39" stroke-width=".3">1Y</text>
<text x="188.3" y="467" font-size="8.8" fill="#2a2e39" font-weight="normal" textLength="9.0" lengthAdjust="spacingAndGlyphs" stroke="#2a2e39" stroke-width=".3">5Y</text>
<text x="206.7" y="467" font-size="8.8" fill="#2a2e39" font-weight="normal" textLength="10.0" lengthAdjust="spacingAndGlyphs" stroke="#2a2e39" stroke-width=".3">All</text>
<text x="238" y="467" font-size="8.8" fill="#2a2e39" font-weight="normal" textLength="31.3" lengthAdjust="spacingAndGlyphs" stroke="#2a2e39" stroke-width=".3">Go to...</text>
<text x="563.3" y="467" font-size="8.8" fill="#2a2e39" font-weight="normal" textLength="70.0" lengthAdjust="spacingAndGlyphs" stroke="#2a2e39" stroke-width=".3">13:47:45 (UTC+3)</text>
<text x="655.5" y="467" font-size="8.8" fill="#2a2e39" font-weight="normal" textLength="7.5" lengthAdjust="spacingAndGlyphs" stroke="#2a2e39" stroke-width=".3">%</text>
<text x="672.8" y="467" font-size="8.8" fill="#2a2e39" font-weight="normal" textLength="11.7" lengthAdjust="spacingAndGlyphs" stroke="#2a2e39" stroke-width=".3">log</text>
<text x="693.8" y="467" font-size="8.8" fill="#2b98f4" font-weight="normal" textLength="18.2" lengthAdjust="spacingAndGlyphs" stroke="#2b98f4" stroke-width=".25">auto</text>
<text x="45.7" y="494" font-size="8.9" fill="#2a2e39" font-weight="normal" textLength="59.3" lengthAdjust="spacingAndGlyphs" stroke="#2a2e39" stroke-width=".3">Stock Screener</text>
<text x="131" y="494" font-size="8.9" fill="#2a2e39" font-weight="normal" textLength="43.0" lengthAdjust="spacingAndGlyphs" stroke="#2a2e39" stroke-width=".3">Text Notes</text>
<text x="195.7" y="494" font-size="8.9" fill="#2a2e39" font-weight="normal" textLength="44.1" lengthAdjust="spacingAndGlyphs" stroke="#2a2e39" stroke-width=".3">Pine Editor</text>
<text x="261" y="494" font-size="8.9" fill="#2a2e39" font-weight="normal" textLength="61.3" lengthAdjust="spacingAndGlyphs" stroke="#2a2e39" stroke-width=".3">Strategy Tester</text>
<text x="344.3" y="494" font-size="8.9" fill="#2a2e39" font-weight="normal" textLength="54.7" lengthAdjust="spacingAndGlyphs" stroke="#2a2e39" stroke-width=".3">Trading Panel</text>
</svg>
</body>
</html>
